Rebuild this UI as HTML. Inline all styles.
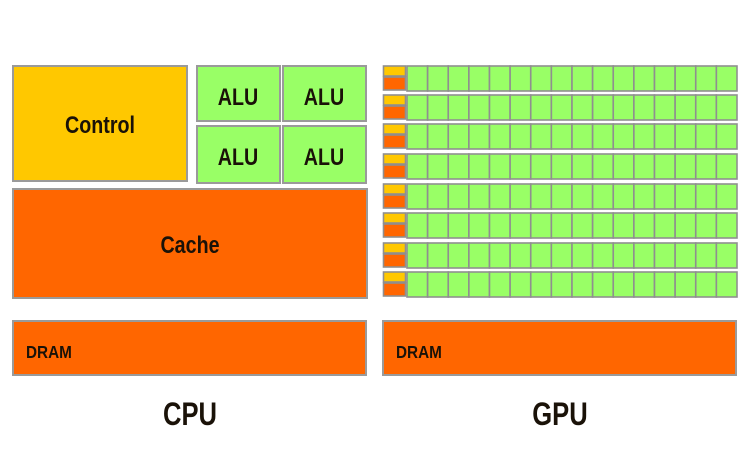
<!DOCTYPE html>
<html><head><style>
html,body{margin:0;padding:0;background:#fff;}
svg{display:block;}
text{font-family:"Liberation Sans",sans-serif;font-weight:bold;fill:#1a1208;}
</style></head><body>
<svg width="750" height="473" viewBox="0 0 750 473" xmlns="http://www.w3.org/2000/svg">
<g stroke="#9a9a9a" stroke-width="2">
<rect x="13" y="66" width="174" height="115" fill="#ffc800"/>
<rect x="197" y="66" width="83" height="55" fill="#99ff66"/>
<rect x="283" y="66" width="83" height="55" fill="#99ff66"/>
<rect x="197" y="126" width="83" height="57" fill="#99ff66"/>
<rect x="283" y="126" width="83" height="57" fill="#99ff66"/>
<rect x="13" y="189" width="354" height="109" fill="#ff6600"/>
<rect x="13" y="321" width="353" height="54" fill="#ff6600"/>
<rect x="383" y="321" width="353" height="54" fill="#ff6600"/>
</g>
<g id="gpu" stroke="#8f8f8f" stroke-width="1.6">
</g>
<text transform="translate(100,133) scale(0.82,1)" text-anchor="middle" font-size="24">Control</text>
<text transform="translate(238,105) scale(0.82,1)" text-anchor="middle" font-size="24">ALU</text>
<text transform="translate(324,105) scale(0.82,1)" text-anchor="middle" font-size="24">ALU</text>
<text transform="translate(238,165) scale(0.82,1)" text-anchor="middle" font-size="24">ALU</text>
<text transform="translate(324,165) scale(0.82,1)" text-anchor="middle" font-size="24">ALU</text>
<text transform="translate(190,253) scale(0.82,1)" text-anchor="middle" font-size="24">Cache</text>
<text transform="translate(26,358) scale(0.85,1)" font-size="18">DRAM</text>
<text transform="translate(396,358) scale(0.85,1)" font-size="18">DRAM</text>
<text transform="translate(190,425) scale(0.8,1)" text-anchor="middle" font-size="32">CPU</text>
<text transform="translate(560,425) scale(0.8,1)" text-anchor="middle" font-size="32">GPU</text>
</svg>
<script>
var g=document.getElementById('gpu'),ns='http://www.w3.org/2000/svg';
var tops=[66,95,124,154,184,213,243,272];
function r(x,y,w,h,f){var e=document.createElementNS(ns,'rect');e.setAttribute('x',x);e.setAttribute('y',y);e.setAttribute('width',w);e.setAttribute('height',h);e.setAttribute('fill',f);g.appendChild(e);}
tops.forEach(function(t){
 r(383.5,t,22,10,'#ffc800');
 r(383.5,t+11,22,13,'#ff6600');
 var cw=(737-407)/16;
 for(var i=0;i<16;i++) r(407+i*cw,t,cw,25,'#99ff66');
});
</script>
</body></html>
